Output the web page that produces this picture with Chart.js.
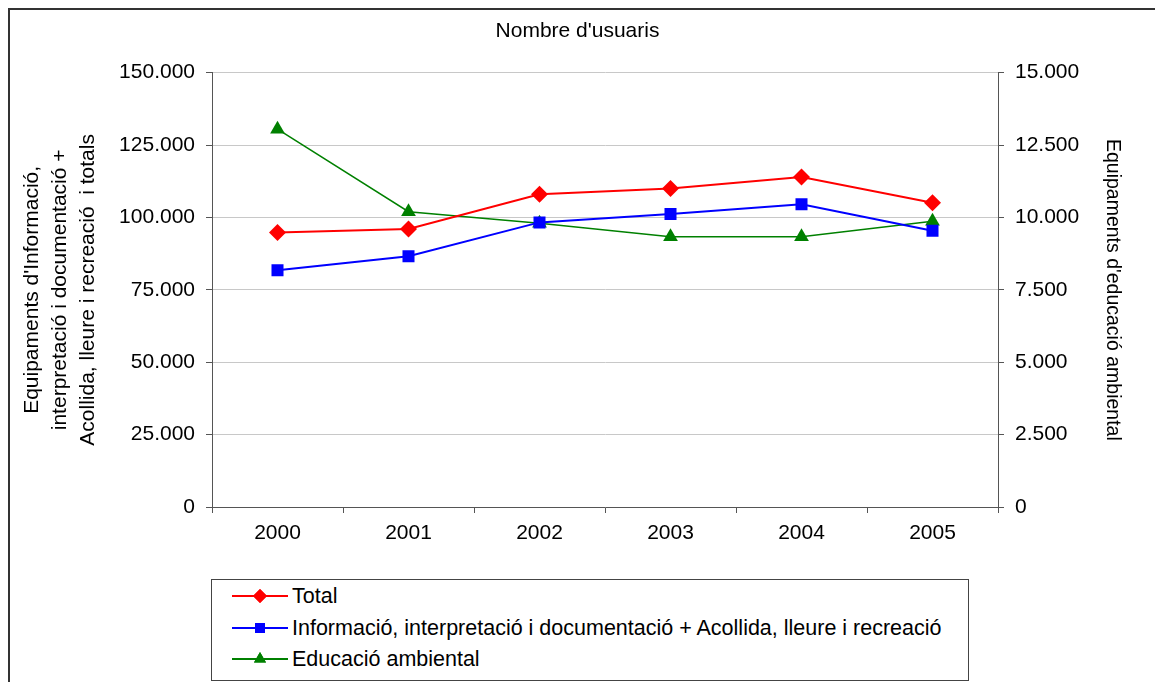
<!DOCTYPE html>
<html>
<head>
<meta charset="utf-8">
<script src="https://cdn.jsdelivr.net/npm/chart.js@4.4.0/dist/chart.umd.min.js"></script>
<style>
  html, body { margin: 0; padding: 0; background: #fff; }
  #wrap { position: relative; width: 1155px; height: 682px; overflow: hidden; }
  #frame { position: absolute; left: 8px; top: 8px; width: 1200px; height: 700px;
           border-left: 2px solid #333; border-top: 2px solid #333; }
  #cv { position: absolute; left: 0; top: 0; }
  #llegenda { position: absolute; left: 211px; top: 579px; width: 756px; height: 100px;
              border: 1px solid #444; background: #fff;
              font-family: "Liberation Sans", Arial, sans-serif; font-size: 21.5px; color: #000; }
  .fila { position: absolute; left: 20px; height: 26px; display: flex; align-items: center; }
  .fila canvas { margin-right: 4px; }
</style>
</head>
<body>
<div id="wrap">
  <div id="frame"></div>
  <canvas id="cv" width="1155" height="682"></canvas>
  <div id="llegenda"></div>
</div>
<script>
// dades
var anys = ["2000", "2001", "2002", "2003", "2004", "2005"];
var total = [94800, 96000, 108000, 110000, 114000, 105100];
var informacio = [81800, 86600, 98300, 101200, 104600, 95400];
var educacio = [13050, 10200, 9800, 9330, 9330, 9870];

var ticksEsq = [0, 25000, 50000, 75000, 100000, 125000, 150000];
var ticksDre = [0, 2500, 5000, 7500, 10000, 12500, 15000];

function punts(v) {
  return String(v).replace(/\B(?=(\d{3})+(?!\d))/g, ".");
}

Chart.defaults.font.family = '"Liberation Sans", Arial, sans-serif';
Chart.defaults.color = '#000';

var series = [
  { label: "Total", data: total, color: "#ff0000", estil: "rectRot", gruix: 2, eix: "y" },
  { label: "Informació, interpretació i documentació + Acollida, lleure i recreació", data: informacio, color: "#0000ff", estil: "rect", gruix: 2, eix: "y" },
  { label: "Educació ambiental", data: educacio, color: "#008000", estil: "triangle", gruix: 1.5, eix: "y2" }
];

var datasets = [];
for (var i = 0; i < series.length; i++) {
  var s = series[i];
  datasets.push({
    label: s.label,
    data: s.data,
    yAxisID: s.eix,
    borderColor: s.color,
    backgroundColor: s.color,
    borderWidth: s.gruix,
    pointStyle: s.estil,
    pointRadius: 8.5,
    pointHoverRadius: 8.5,
    pointBorderWidth: 0,
    tension: 0,
    fill: false
  });
}

var myChart = new Chart(document.getElementById("cv"), {
  type: "line",
  data: { labels: anys, datasets: datasets },
  options: {
    responsive: false,
    animation: false,
    layout: { padding: 0 },
    plugins: {
      legend: { display: false },
      tooltip: { enabled: false },
      title: {
        display: true,
        text: "Nombre d'usuaris",
        font: { size: 21, weight: "normal" },
        color: "#000",
        padding: { top: 18.4, bottom: 29.1 }
      }
    },
    scales: {
      x: {
        type: "category",
        offset: true,
        grid: { display: true, drawOnChartArea: false, drawTicks: true, tickLength: 6, offset: true, tickColor: "#555" },
        border: { display: true, color: "#555", width: 1 },
        ticks: { font: { size: 21 }, padding: 8, color: "#000" },
        afterFit: function(scale) { scale.height = 175; }
      },
      y: {
        position: "left",
        min: 0, max: 150000,
        afterBuildTicks: function(scale) { scale.ticks = ticksEsq.map(function(v) { return { value: v }; }); },
        grid: { color: "#c8c8c8", lineWidth: 1, drawTicks: true, tickLength: 6, tickColor: "#555" },
        border: { display: true, color: "#555", width: 1 },
        ticks: { font: { size: 21 }, padding: 11, color: "#000",
                 callback: function(v) { return punts(v); } },
        title: {
          display: true,
          text: ["Equipaments d'Informació,", "interpretació i documentació +", "Acollida, lleure i recreació  i totals"],
          font: { size: 21, lineHeight: 1.3333 },
          color: "#000",
          padding: { top: 18, bottom: 0 }
        },
        afterFit: function(scale) { scale.width = 212; }
      },
      y2: {
        position: "right",
        min: 0, max: 15000,
        afterBuildTicks: function(scale) { scale.ticks = ticksDre.map(function(v) { return { value: v }; }); },
        grid: { drawOnChartArea: false, drawTicks: true, tickLength: 6, tickColor: "#555" },
        border: { display: true, color: "#555", width: 1 },
        ticks: { font: { size: 21 }, padding: 11, color: "#000",
                 callback: function(v) { return punts(v); } },
        title: {
          display: true,
          text: "Equipaments d'educació ambiental",
          font: { size: 19.5, lineHeight: 1.3333 },
          color: "#000",
          padding: { top: 30, bottom: 0 }
        },
        afterFit: function(scale) { scale.width = 157; }
      }
    }
  }
});

// llegenda amb caixa, una serie per fila
var caixa = document.getElementById("llegenda");
var filesY = [3, 35, 66];
myChart.data.datasets.forEach(function(ds, k) {
  var fila = document.createElement("div");
  fila.className = "fila";
  fila.style.top = filesY[k] + "px";
  var ic = document.createElement("canvas");
  ic.width = 56; ic.height = 26;
  var c = ic.getContext("2d");
  c.strokeStyle = ds.borderColor;
  c.lineWidth = 2;
  c.beginPath(); c.moveTo(0, 13); c.lineTo(56, 13); c.stroke();
  c.fillStyle = ds.backgroundColor;
  Chart.helpers.drawPoint(c, { pointStyle: ds.pointStyle, radius: 7, borderWidth: 0, rotation: 0 }, 28, 13);
  c.fill();
  fila.appendChild(ic);
  var t = document.createElement("span");
  t.textContent = ds.label;
  fila.appendChild(t);
  caixa.appendChild(fila);
});
</script>
</body>
</html>
